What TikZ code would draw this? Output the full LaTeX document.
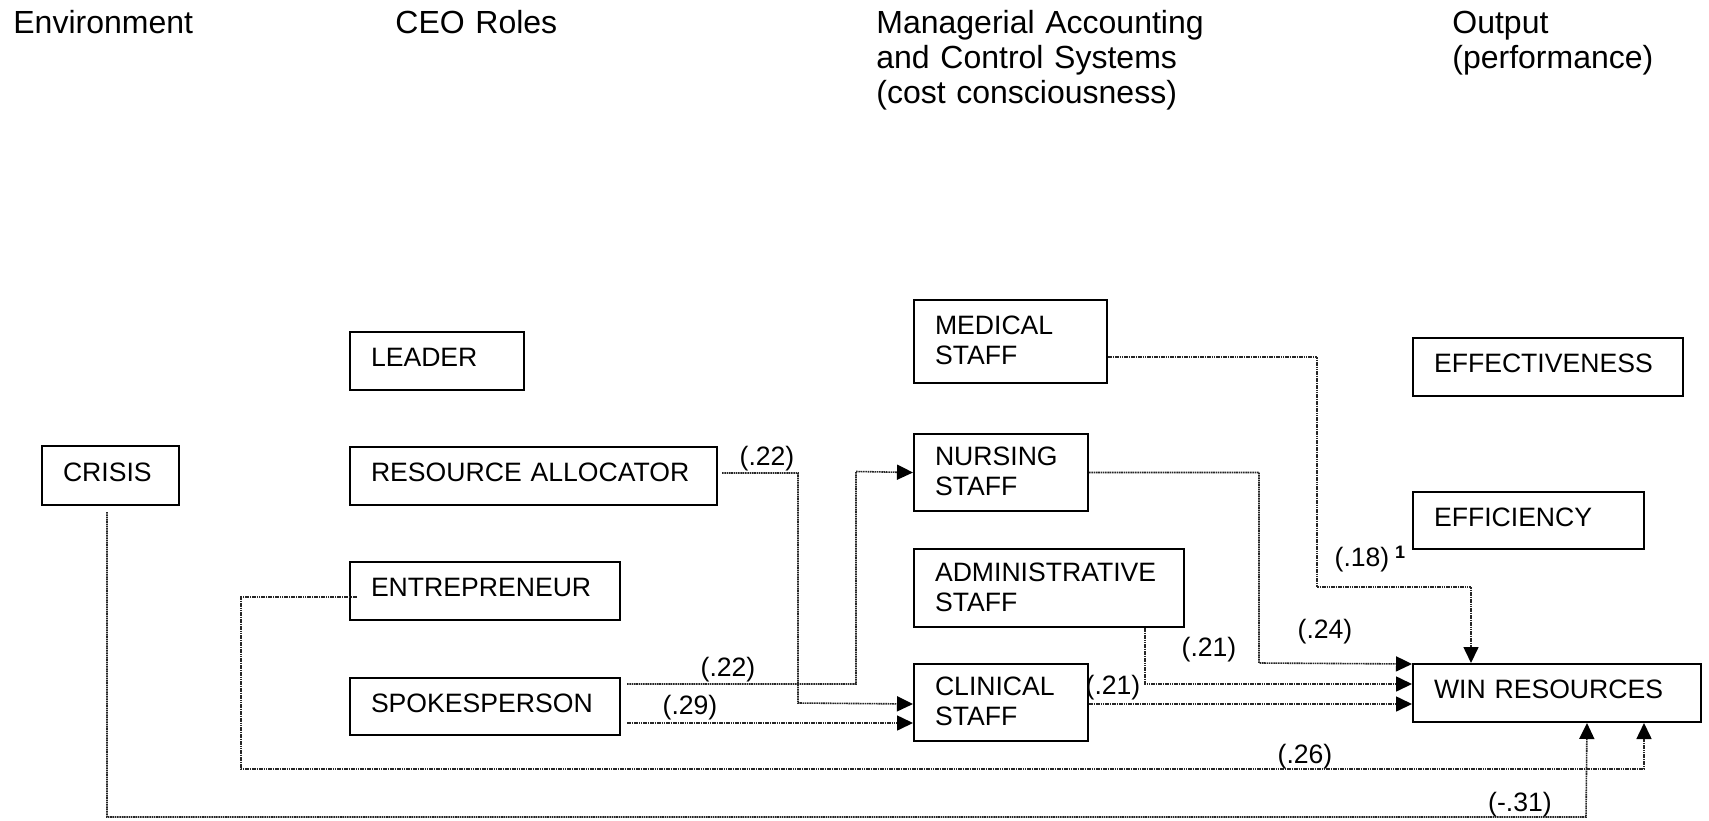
\documentclass[tikz,border=0pt]{standalone}
\usepackage{fontspec}
\setmainfont{Liberation Sans}
\usetikzlibrary{arrows.meta}
\begin{document}
\begin{tikzpicture}[x=0.5pt,y=-0.5pt,
  box/.style={draw, line width=1pt, anchor=north west, inner xsep=10.5pt, inner ysep=0pt,
    font=\fontsize{13.3}{15}\selectfont, align=left},
  one/.style={text depth=3.5pt},
  two/.style={text depth=16pt},
  head/.style={anchor=base west, inner sep=0pt, font=\fontsize{16}{17.5}\selectfont, align=left},
  conn/.style={line width=0.8pt, dash pattern=on 0.8pt off 0.35pt, black!85,
    -{Triangle[length=8pt,width=7.5pt,color=black,fill=black]}},
  lbl/.style={inner sep=0pt, font=\fontsize{13.3}{15}\selectfont}
]
\useasboundingbox (0,0) rectangle (1709,820);

% headings
\node[head, text width=120pt] (hEnv) at (13,33) {Environment};
\node[head, text width=120pt] (hCEO) at (395,33) {CEO Roles};
\node[head, text width=172pt] (hMAC) at (876,33) {Managerial Accounting\\and Control Systems\\(cost consciousness)};
\node[head, text width=112pt] (hOut) at (1452,33) {Output\\(performance)};

% boxes
\node[box, one, text width=47.5pt, minimum height=29.5pt] (crisis) at (41,445) {CRISIS};
\node[box, one, text width=66pt, minimum height=29pt] (leader) at (349,331) {LEADER};
\node[box, one, text width=162.5pt, minimum height=29pt] (ra) at (349,446) {RESOURCE ALLOCATOR};
\node[box, one, text width=114pt, minimum height=29pt] (entre) at (349,561) {ENTREPRENEUR};
\node[box, one, text width=114pt, minimum height=28.5pt] (spokes) at (349,677) {SPOKESPERSON};
\node[box, two, text width=75.5pt, minimum height=41.5pt] (med) at (913,299) {MEDICAL\\STAFF};
\node[box, two, text width=66pt, minimum height=38.5pt] (nurs) at (913,433) {NURSING\\STAFF};
\node[box, two, text width=114pt, minimum height=39pt] (admin) at (913,548) {ADMINISTRATIVE\\STAFF};
\node[box, two, text width=66pt, minimum height=38.5pt] (clin) at (913,663) {CLINICAL\\STAFF};
\node[box, one, text width=114pt, minimum height=29pt] (effect) at (1412,337) {EFFECTIVENESS};
\node[box, one, text width=94.5pt, minimum height=28.5pt] (effic) at (1412,491) {EFFICIENCY};
\node[box, one, text width=123pt, minimum height=29pt] (win) at (1412,663) {WIN RESOURCES};

% connectors
\draw[conn] ([xshift=2pt,yshift=1.5pt]ra.east) -| (798,703) -- ([yshift=-0.75pt]clin.west);
\draw[conn] ([xshift=3pt,yshift=11.25pt]spokes.east) -| (856,471.5) -- (nurs.west);
\draw[conn] ([xshift=3pt,yshift=-8.25pt]spokes.east) -- ([yshift=-10.25pt]clin.west);
\draw[conn] ([yshift=-7.75pt]med.east) -| (1317,587) -| ([xshift=-43pt]win.north);
\draw[conn] (nurs.east) -| (1259,663) -- ([yshift=14.5pt]win.west);
\draw[conn] ([xshift=48pt]admin.south) |- ([yshift=4.5pt]win.west);
\draw[conn] ([yshift=-0.75pt]clin.east) -- ([yshift=-5.5pt]win.west);
\draw[conn] ([xshift=4pt,yshift=-3pt]entre.west) -| (241,769) -| ([xshift=43.5pt]win.south);
\draw[conn] ([xshift=-1.75pt,yshift=-3pt]crisis.south) |- (1586,817) -- ([xshift=15pt]win.south);

% labels
\node[lbl] (lRA) at (767,459) {(.22)};
\node[lbl] (lSN) at (728,670) {(.22)};
\node[lbl] (lSC) at (690,708) {(.29)};
\node[lbl] (lMW) at (1362,560) {(.18)};
\node[inner sep=0pt, font=\fontsize{9}{10}\selectfont\bfseries] (lSup) at (1400,552) {1};
\node[lbl] (lNW) at (1325,632) {(.24)};
\node[lbl] (lAW) at (1209,650) {(.21)};
\node[lbl] (lCW) at (1113,688) {(.21)};
\node[lbl] (lEW) at (1305,757) {(.26)};
\node[lbl] (lXW) at (1520,805) {(-.31)};
\end{tikzpicture}
\end{document}
